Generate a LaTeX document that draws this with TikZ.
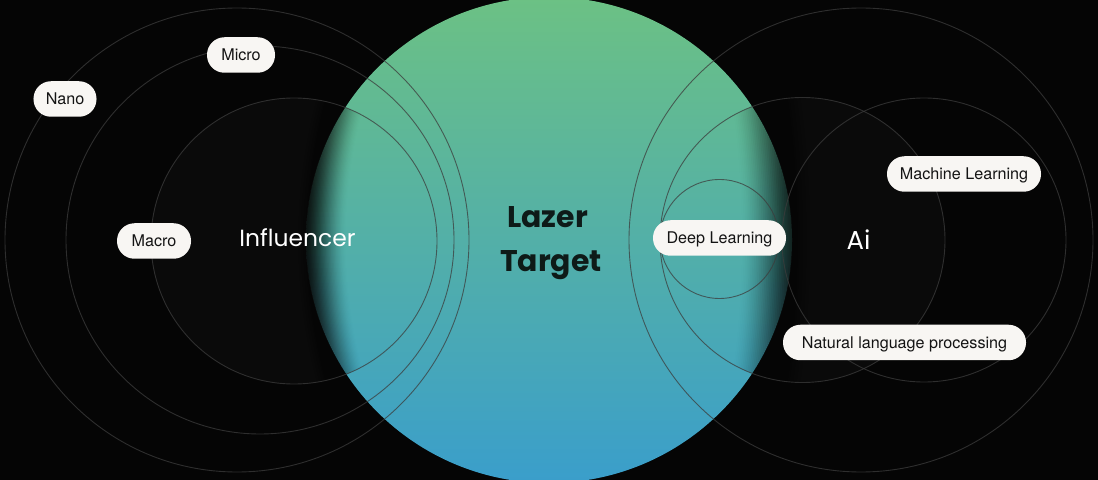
\documentclass[tikz,border=0pt]{standalone}
\usepackage{fontspec}
\setmainfont{TeX Gyre Heros}
\newfontfamily\popfont{Poppins}
\definecolor{bgc}{HTML}{050505}
\definecolor{darkc}{HTML}{0A0A0A}
\definecolor{ringc}{HTML}{3C3C3C}
\definecolor{pillc}{HTML}{F8F6F3}
\definecolor{pilltext}{HTML}{141414}
\definecolor{gtop}{HTML}{6CC184}
\definecolor{gmid}{HTML}{5AB7B2}
\definecolor{gbot}{HTML}{3A9ECB}
\definecolor{targettext}{HTML}{0E1A18}
\tikzset{
  ring/.style={draw=ringc, draw opacity=0.75, line width=0.9bp},
  pill/.style={fill=pillc, rounded corners=17.5bp, minimum height=35.5bp, inner xsep=0pt, inner ysep=0pt,
    text=pilltext, font=\fontsize{16.2}{19}\selectfont, text height=11.6bp, text depth=0pt},
  bigword/.style={anchor=base, text=white, font=\popfont\fontsize{23.5}{28}\selectfont},
  centreword/.style={anchor=base, text=targettext, font=\popfont\bfseries\fontsize{30}{36}\selectfont}
}
% dark disc (#1,#2) radius #3; dark outside radius #6 around (#4,240),
% fading smoothly to clear inside radius #5
\newcommand{\fadedisc}[6]{%
  \begin{scope}
    \clip (#1,#2) circle (#3 bp);
    \fill[darkc, even odd rule] (-1200,-1200) rectangle (2300,1700) (#4,240) circle (#6 bp);
    \foreach \k in {1,...,40}{%
      \pgfmathsetmacro{\rr}{#5+(\k-1)*(#6-#5)/40}
      \pgfmathsetmacro{\ta}{\k/40}
      \pgfmathsetmacro{\tb}{(\k-1)/40}
      \pgfmathsetmacro{\aa}{1-(1-3*\ta*\ta+2*\ta*\ta*\ta)/(1-3*\tb*\tb+2*\tb*\tb*\tb)}
      \fill[darkc, fill opacity=\aa, even odd rule] (-1200,-1200) rectangle (2300,1700) (#4,240) circle (\rr bp);
    }
  \end{scope}}
\begin{document}
\begin{tikzpicture}[x=1bp,y=-1bp]
\useasboundingbox (0,0) rectangle (1098,480);
\clip (0,0) rectangle (1098,480);
\fill[bgc] (0,0) rectangle (1098,480);
% central gradient disc
\fill[top color=gtop, middle color=gmid, bottom color=gbot] (549,240) circle (243bp);
% dark fading discs
\fadedisc{294}{241}{143}{845}{498}{548}
\fadedisc{802.5}{240}{142.5}{-216}{956}{1028}
% rings left
\draw[ring] (237,240) circle (232bp);
\draw[ring] (260,240) circle (194bp);
\draw[ring] (294,241) circle (143bp);
% rings right
\draw[ring] (861,240) circle (232bp);
\draw[ring] (802.5,240) circle (142.5bp);
\draw[ring] (924,240) circle (142bp);
\draw[ring] (719.5,239) circle (59.5bp);
% texts
\node[centreword] (lazer) at (547.5,228) {Lazer};
\node[centreword] (target) at (551,272) {Target};
\node[bigword] (infl) at (297.5,247) {Influencer};
\node[bigword, font=\popfont\fontsize{26}{30}\selectfont] (ai) at (858.5,249.5) {Ai};
% pills
\node[pill, minimum width=63bp] (nano) at (65,99) {Nano};
\node[pill, minimum width=68bp] (micro) at (241,55) {Micro};
\node[pill, minimum width=74bp] (macro) at (154,241) {Macro};
\node[pill, minimum width=133bp] (deep) at (719.5,238) {Deep Learning};
\node[pill, minimum width=154bp] (ml) at (964,174) {Machine Learning};
\node[pill, minimum width=243bp] (nlp) at (904.5,342.5) {Natural language processing};
\end{tikzpicture}
\end{document}
